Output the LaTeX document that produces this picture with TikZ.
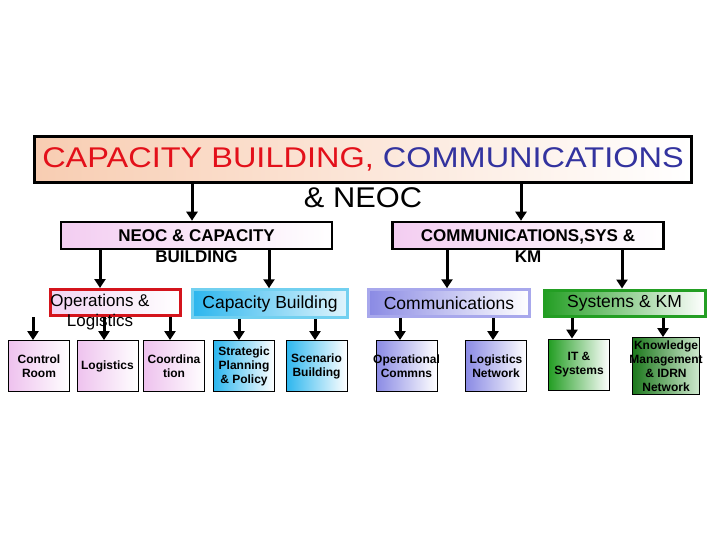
\documentclass[tikz,border=0pt]{standalone}
\usepackage{fontspec}
\setmainfont{Liberation Sans}
\usepackage{graphicx}
\usetikzlibrary{positioning,arrows.meta}

\definecolor{peach}{HTML}{F8CDB2}
\definecolor{titlered}{HTML}{E3101A}
\definecolor{titleblue}{HTML}{33339F}
\definecolor{headpink}{HTML}{F3CDF1}
\definecolor{leafpink}{HTML}{EEC2EE}
\definecolor{opsred}{HTML}{D4141C}
\definecolor{capcyan}{HTML}{2CB6EE}
\definecolor{capline}{HTML}{72D0F0}
\definecolor{commblue}{HTML}{8A8AE4}
\definecolor{commline}{HTML}{A8A8EC}
\definecolor{sysgreen}{HTML}{239E23}
\definecolor{kmgreen}{HTML}{1C781C}
\definecolor{kmlight}{HTML}{CFE9CF}

\begin{document}
\begin{tikzpicture}[
        x=1pt, y=-1pt,
        top_style/.style={draw=black, line width=3pt, left color=peach, right color=white, minimum width=657pt, minimum height=46pt, inner sep=0pt},
        title_style/.style={align=center, inner sep=0pt, font=\fontsize{28.5}{40}\selectfont},
        head_style/.style={draw=black, line width=2.5pt, left color=headpink, right color=white, minimum width=271pt, minimum height=27pt, inner sep=0pt},
        head_text/.style={align=center, inner sep=0pt, anchor=north, font=\bfseries\fontsize{17}{21}\selectfont},
        group_style/.style={line width=2.5pt, right color=white, minimum height=26pt, inner sep=0pt, font=\fontsize{17.5}{20}\selectfont},
        leaf_style/.style={draw=black, line width=0.8pt, right color=white, minimum width=61pt, minimum height=51pt, inner sep=0pt, align=center, font=\bfseries\fontsize{12}{14}\selectfont},
        arrow_style/.style={line width=3pt, -{Triangle[width=11pt,length=9pt]}}
    ]
    \useasboundingbox (0,0) rectangle (720,540);
    \fill[white] (0,0) rectangle (720,540);

    % Top box
    \node[top_style] (top) at (363,159.5) {};
    \node[title_style, anchor=north] (title) at (363,147) {\scalebox{1.14}[1]{\textcolor{titlered}{CAPACITY BUILDING,} \textcolor{titleblue}{COMMUNICATIONS}}\\ \scalebox{1.08}[1]{\& NEOC}};

    % Level 1
    \node[head_style] (neoc) at (196.5,235.5) {};
    \node[head_text] (neocT) at ([yshift=-8.5pt]neoc.north) {NEOC \& CAPACITY\\BUILDING};
    \node[head_style] (comms) at (528,235.5) {};
    \node[head_text] (commsT) at ([yshift=-8.5pt]comms.north) {COMMUNICATIONS,SYS \&\\KM};

    % Edges from the top box
    \draw[arrow_style] ([xshift=-4.5pt]neoc.north |- top.south) -- ([xshift=-4.5pt]neoc.north);
    \draw[arrow_style] ([xshift=-7pt]comms.north |- top.south) -- ([xshift=-7pt]comms.north);

    % Level 2
    \node[group_style, draw=opsred, line width=3pt, left color=leafpink!70, minimum width=130pt] (ops) at (115.5,302.5) {};
    \node[align=center, inner sep=0pt, anchor=north, font=\fontsize{17}{20}\selectfont] (opsT) at ([xshift=-15.5pt, yshift=-6pt]ops.north) {Operations \&\\Logistics};
    \node[group_style, draw=capline, left color=capcyan, right color=white!85!capcyan, minimum width=155pt, minimum height=28pt] (cap) at (270,303.5) {Capacity Building};
    \node[group_style, draw=commline, left color=commblue, minimum width=161pt, minimum height=27pt] (comm) at (449,303) {Communications};
    \node[group_style, draw=sysgreen, line width=3pt, left color=sysgreen, minimum width=161pt, minimum height=26pt] (sys) at (624.5,303) {Systems \& KM};

    % Edges from level 1
    \draw[arrow_style] ([xshift=-15.5pt]ops.north |- neoc.south) -- ([xshift=-15.5pt]ops.north);
    \draw[arrow_style] ([xshift=-1pt]cap.north |- neoc.south) -- ([xshift=-1pt]cap.north);
    \draw[arrow_style] ([xshift=-2pt]comm.north |- comms.south) -- ([xshift=-2pt]comm.north);
    \draw[arrow_style] ([xshift=-2.5pt]sys.north |- comms.south) -- ([xshift=-2.5pt]sys.north);

    % Level 3
    \node[leaf_style, left color=leafpink] (ctrl) at (39,366) {Control\\Room};
    \node[leaf_style, left color=leafpink] (logi) at (107.5,366) {Logistics};
    \node[leaf_style, left color=leafpink] (coord) at (174,366) {Coordina\\tion};
    \node[leaf_style, left color=capcyan] (strat) at (244,366) {Strategic\\Planning\\\& Policy};
    \node[leaf_style, left color=capcyan] (scen) at (316.5,366) {Scenario\\Building};
    \node[leaf_style, left color=commblue] (opc) at (406.5,366) {\makebox[60pt]{Operational}\\Commns};
    \node[leaf_style, left color=commblue] (lognet) at (496,366) {Logistics\\Network};
    \node[leaf_style, left color=sysgreen] (it) at (579,364.5) {IT \&\\Systems};
    \node[leaf_style, left color=kmgreen, right color=kmlight, minimum width=67pt, minimum height=57pt] (km) at (666,366) {Knowledge\\\makebox[64pt]{Management}\\\& IDRN\\Network};

    % Edges from Operations & Logistics
    \draw[arrow_style] ([xshift=-6pt]ctrl.north |- ops.south) -- ([xshift=-6pt]ctrl.north);
    \draw[arrow_style] ([xshift=-3.5pt]logi.north |- ops.south) -- ([xshift=-3.5pt]logi.north);
    \draw[arrow_style] ([xshift=-4pt]coord.north |- ops.south) -- ([xshift=-4pt]coord.north);

    % Edges from Capacity Building
    \draw[arrow_style] ([xshift=-5pt]strat.north |- cap.south) -- ([xshift=-5pt]strat.north);
    \draw[arrow_style] ([xshift=-1.5pt]scen.north |- cap.south) -- ([xshift=-1.5pt]scen.north);

    % Edges from Communications
    \draw[arrow_style] ([xshift=-6.5pt]opc.north |- comm.south) -- ([xshift=-6.5pt]opc.north);
    \draw[arrow_style] ([xshift=-3pt]lognet.north |- comm.south) -- ([xshift=-3pt]lognet.north);

    % Edges from Systems & KM
    \draw[arrow_style] ([xshift=-7pt]it.north |- sys.south) -- ([xshift=-7pt]it.north);
    \draw[arrow_style] ([xshift=-3pt]km.north |- sys.south) -- ([xshift=-3pt]km.north);

\end{tikzpicture}
\end{document}
